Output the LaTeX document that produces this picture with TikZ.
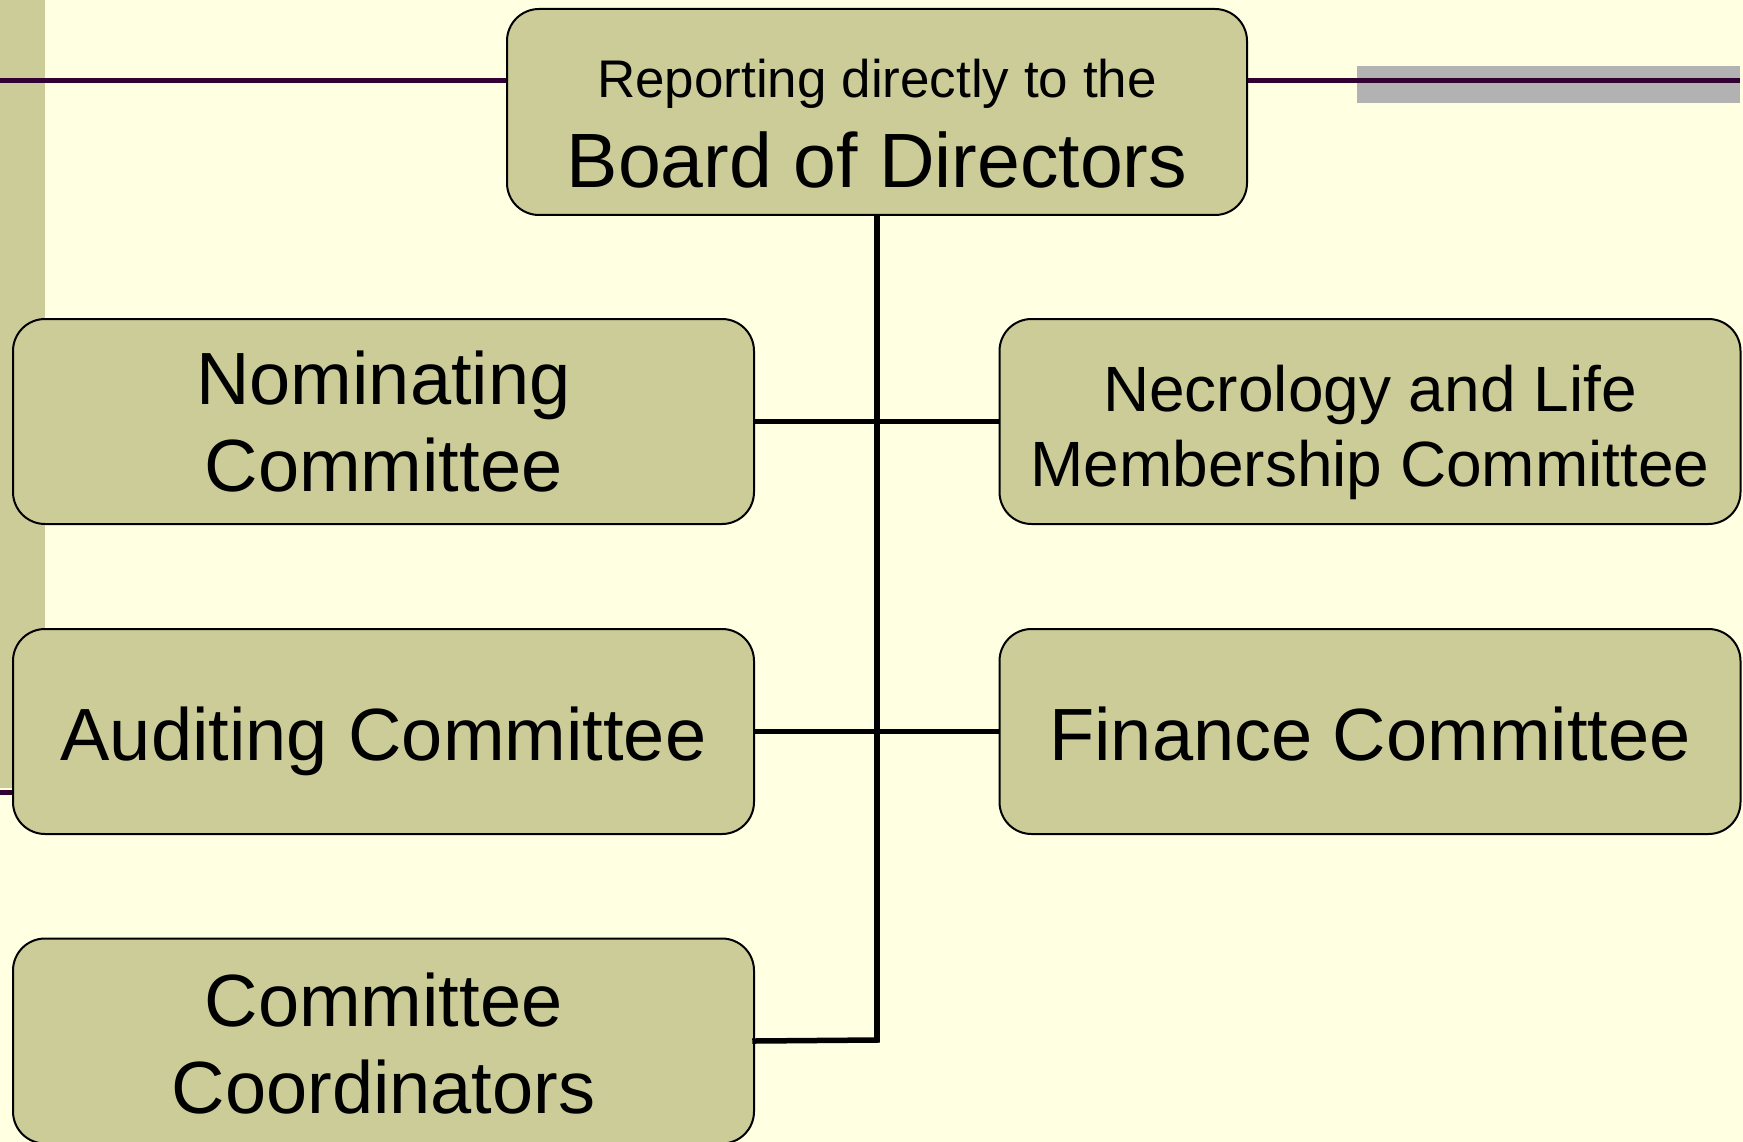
\documentclass[tikz,border=0pt]{standalone}
\usepackage{fontspec}
\setmainfont{Liberation Sans}
\definecolor{bgc}{HTML}{FFFFE1}
\definecolor{tanc}{HTML}{CCCC99}
\definecolor{plum}{HTML}{330033}
\definecolor{grayband}{HTML}{B2B2B2}
\begin{document}
\begin{tikzpicture}[x=1pt,y=-1pt,
  orgbox/.style={draw=black,line width=2pt,fill=tanc,rounded corners=32pt,
    rectangle,inner sep=0pt,align=center,text=black},
  wide/.style={minimum width=741pt,minimum height=205pt},
  bigtext/.style={font=\fontsize{74}{87}\selectfont},
  midtext/.style={font=\fontsize{64}{75}\selectfont},
  oneline/.style={text height=57pt,text depth=0pt},
  link/.style={draw=black,line width=5.5pt},
  rule/.style={draw=plum,line width=5pt}]
\useasboundingbox (0,0) rectangle (1743,1142);
\fill[bgc] (0,0) rectangle (1743,1142);
% decorations
\fill[tanc] (0,0) rectangle (45,788);
\fill[grayband] (1357,66) rectangle (1740,103);
\coordinate (lstart) at (0,81);
\coordinate (rend) at (1740,81);
\coordinate (bstart) at (0,792);
\coordinate (bend) at (20,792);
% boxes
\node[orgbox,minimum width=740pt,minimum height=206pt] (board) at (877,112)
  {{\fontsize{53}{60}\selectfont\rule{0pt}{62pt}Reporting directly to the}\\[22pt]
   {\fontsize{77}{80}\selectfont Board of Directors}};
\draw[rule] (lstart) -- (board.west |- lstart);
\draw[rule] (board.east |- rend) -- (rend);
\draw[rule] (bstart) -- (bend);
\node[orgbox,wide,bigtext] (nom) at (383.5,421.5) {Nominating\\Committee};
\node[orgbox,wide,midtext] (necro) at (1370,421.5) {\rule{0pt}{68pt}Necrology and Life\\Membership Committee};
\node[orgbox,wide,bigtext,oneline] (audit) at (383.5,731.5) {Auditing Committee};
\node[orgbox,wide,bigtext,oneline] (fin) at (1370,731.5) {Finance Committee};
\node[orgbox,wide,bigtext] (coord) at (383.5,1041) {\rule{0pt}{58pt}Committee\\Coordinators};
% connectors
\coordinate (trunkend) at (877,1040);
\draw[link] (board.south) -- (trunkend);
\draw[link] (nom.east) -- (necro.west);
\draw[link] (audit.east) -- (fin.west);
\draw[link,line cap=rect] (coord.east) -- (trunkend);
\end{tikzpicture}
\end{document}
